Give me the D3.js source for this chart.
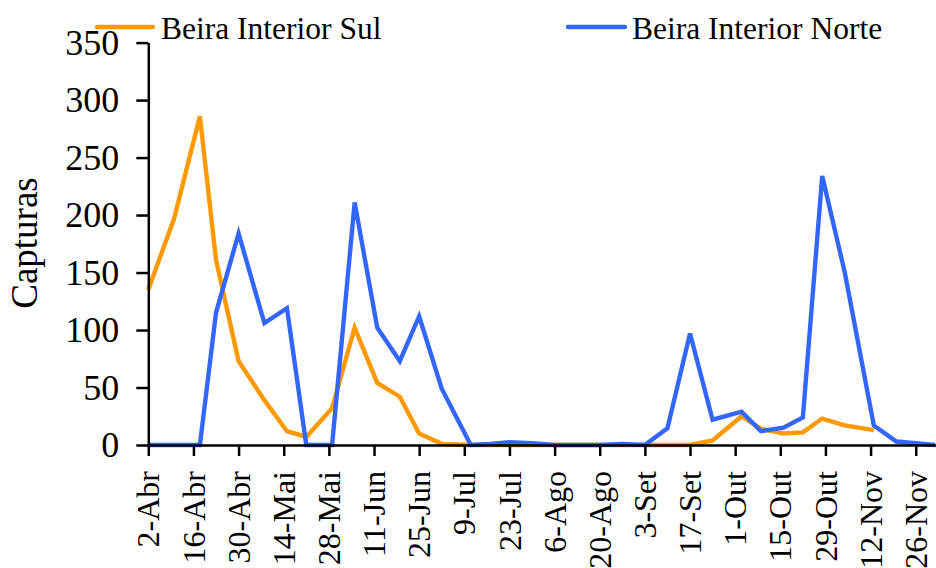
<!DOCTYPE html>
<html>
<head>
<meta charset="utf-8">
<script src="https://cdn.jsdelivr.net/npm/d3@7"></script>
<style>
  html, body { margin: 0; padding: 0; background: #fff; }
  svg { display: block; }
  text { font-family: "Liberation Serif", "Times New Roman", serif; fill: #000; }
</style>
</head>
<body>
<svg id="chart" width="936" height="568"></svg>
<script>
// ---- data ----
const dates = ["2018-04-02","2018-04-10","2018-04-18","2018-04-23","2018-04-30","2018-05-08","2018-05-15","2018-05-21","2018-05-29","2018-06-05","2018-06-12","2018-06-19","2018-06-25","2018-07-02","2018-07-11","2018-07-17","2018-07-23","2018-07-30","2018-08-06","2018-08-13","2018-08-20","2018-08-27","2018-09-03","2018-09-10","2018-09-17","2018-09-24","2018-10-03","2018-10-09","2018-10-16","2018-10-22","2018-10-28","2018-11-04","2018-11-13","2018-11-20","2018-12-02"];
const sulValues = [135,197,286,161,73,39,12,7,32,102,54,42,10,1,0,0,0,0,0,0,0,0,0,0,0,4,25,14,10,11,23,17,13,null,null];
const norteValues = [0,0,0,115,184,106,119,0,0,211,102,73,112,49,0,1,2.5,1.5,0,0,0,1,0,14.5,97,22,29,12,15,24,234,150,17,3,0];
const seriesNames = ["Beira Interior Sul","Beira Interior Norte"];
const tickDates = ["2018-04-02","2018-04-16","2018-04-30","2018-05-14","2018-05-28","2018-06-11","2018-06-25","2018-07-09","2018-07-23","2018-08-06","2018-08-20","2018-09-03","2018-09-17","2018-10-01","2018-10-15","2018-10-29","2018-11-12","2018-11-26"];
const tickLabels = ["2-Abr","16-Abr","30-Abr","14-Mai","28-Mai","11-Jun","25-Jun","9-Jul","23-Jul","6-Ago","20-Ago","3-Set","17-Set","1-Out","15-Out","29-Out","12-Nov","26-Nov"];
const yTicks = [0,50,100,150,200,250,300,350];
const yLabel = "Capturas";
const colors = ["#FF9900","#3366FF"];

// ---- chart ----
const parse = d3.timeParse("%Y-%m-%d");
const svg = d3.select("#chart");

const x = d3.scaleTime()
  .domain([parse("2018-04-02"), parse("2018-12-03")])
  .range([148.3, 938.3]);
const y = d3.scaleLinear().domain([0, 350]).range([445, 42.6]);

const rows = dates.map((d, i) => ({ date: parse(d), sul: sulValues[i], norte: norteValues[i] }));

// lines
const keys = ["sul", "norte"];
keys.forEach((k, i) => {
  const line = d3.line()
    .defined(d => d[k] != null)
    .x(d => x(d.date))
    .y(d => y(d[k]));
  svg.append("path")
    .datum(rows)
    .attr("fill", "none")
    .attr("stroke", colors[i])
    .attr("stroke-width", 4.4)
    .attr("stroke-linejoin", "miter")
    .attr("d", line);
});

// x axis
const xAxis = d3.axisBottom(x)
  .tickValues(tickDates.map(parse))
  .tickFormat((d, i) => tickLabels[i])
  .tickSize(11)
  .tickSizeOuter(0)
  .tickPadding(15);
const gx = svg.append("g").attr("transform", "translate(0,445)").call(xAxis);
gx.select(".domain").attr("stroke", "#000").attr("stroke-width", 2.5);
gx.selectAll(".tick line").attr("stroke", "#000").attr("stroke-width", 2.5);
gx.selectAll(".tick text")
  .attr("font-size", 32)
  .attr("text-anchor", "end")
  .attr("transform", "rotate(-90)")
  .attr("x", -26)
  .attr("y", 0)
  .attr("dy", "0.33em");

// y axis
const yAxis = d3.axisLeft(y)
  .tickValues(yTicks)
  .tickSize(12)
  .tickSizeOuter(0)
  .tickPadding(17);
const gy = svg.append("g").attr("transform", "translate(148.3,0)").call(yAxis);
gy.select(".domain").attr("stroke", "#000").attr("stroke-width", 2.5);
gy.selectAll(".tick line").attr("stroke", "#000").attr("stroke-width", 2.5);
gy.selectAll(".tick text").attr("font-size", 36).attr("dy", "0.33em");

// y label
svg.append("text")
  .attr("transform", "translate(37,243) rotate(-90)")
  .attr("text-anchor", "middle")
  .attr("font-size", 37)
  .text(yLabel);

// legend
const legendPos = [{x1: 97, x2: 153, tx: 161}, {x1: 568, x2: 625, tx: 632}];
seriesNames.forEach((name, i) => {
  const p = legendPos[i];
  svg.append("line")
    .attr("x1", p.x1).attr("x2", p.x2)
    .attr("y1", 27).attr("y2", 27)
    .attr("stroke", colors[i])
    .attr("stroke-width", 4.4)
    .attr("stroke-linecap", "round");
  svg.append("text")
    .attr("x", p.tx).attr("y", 39)
    .attr("font-size", 31.5)
    .text(name);
});
</script>
</body>
</html>
